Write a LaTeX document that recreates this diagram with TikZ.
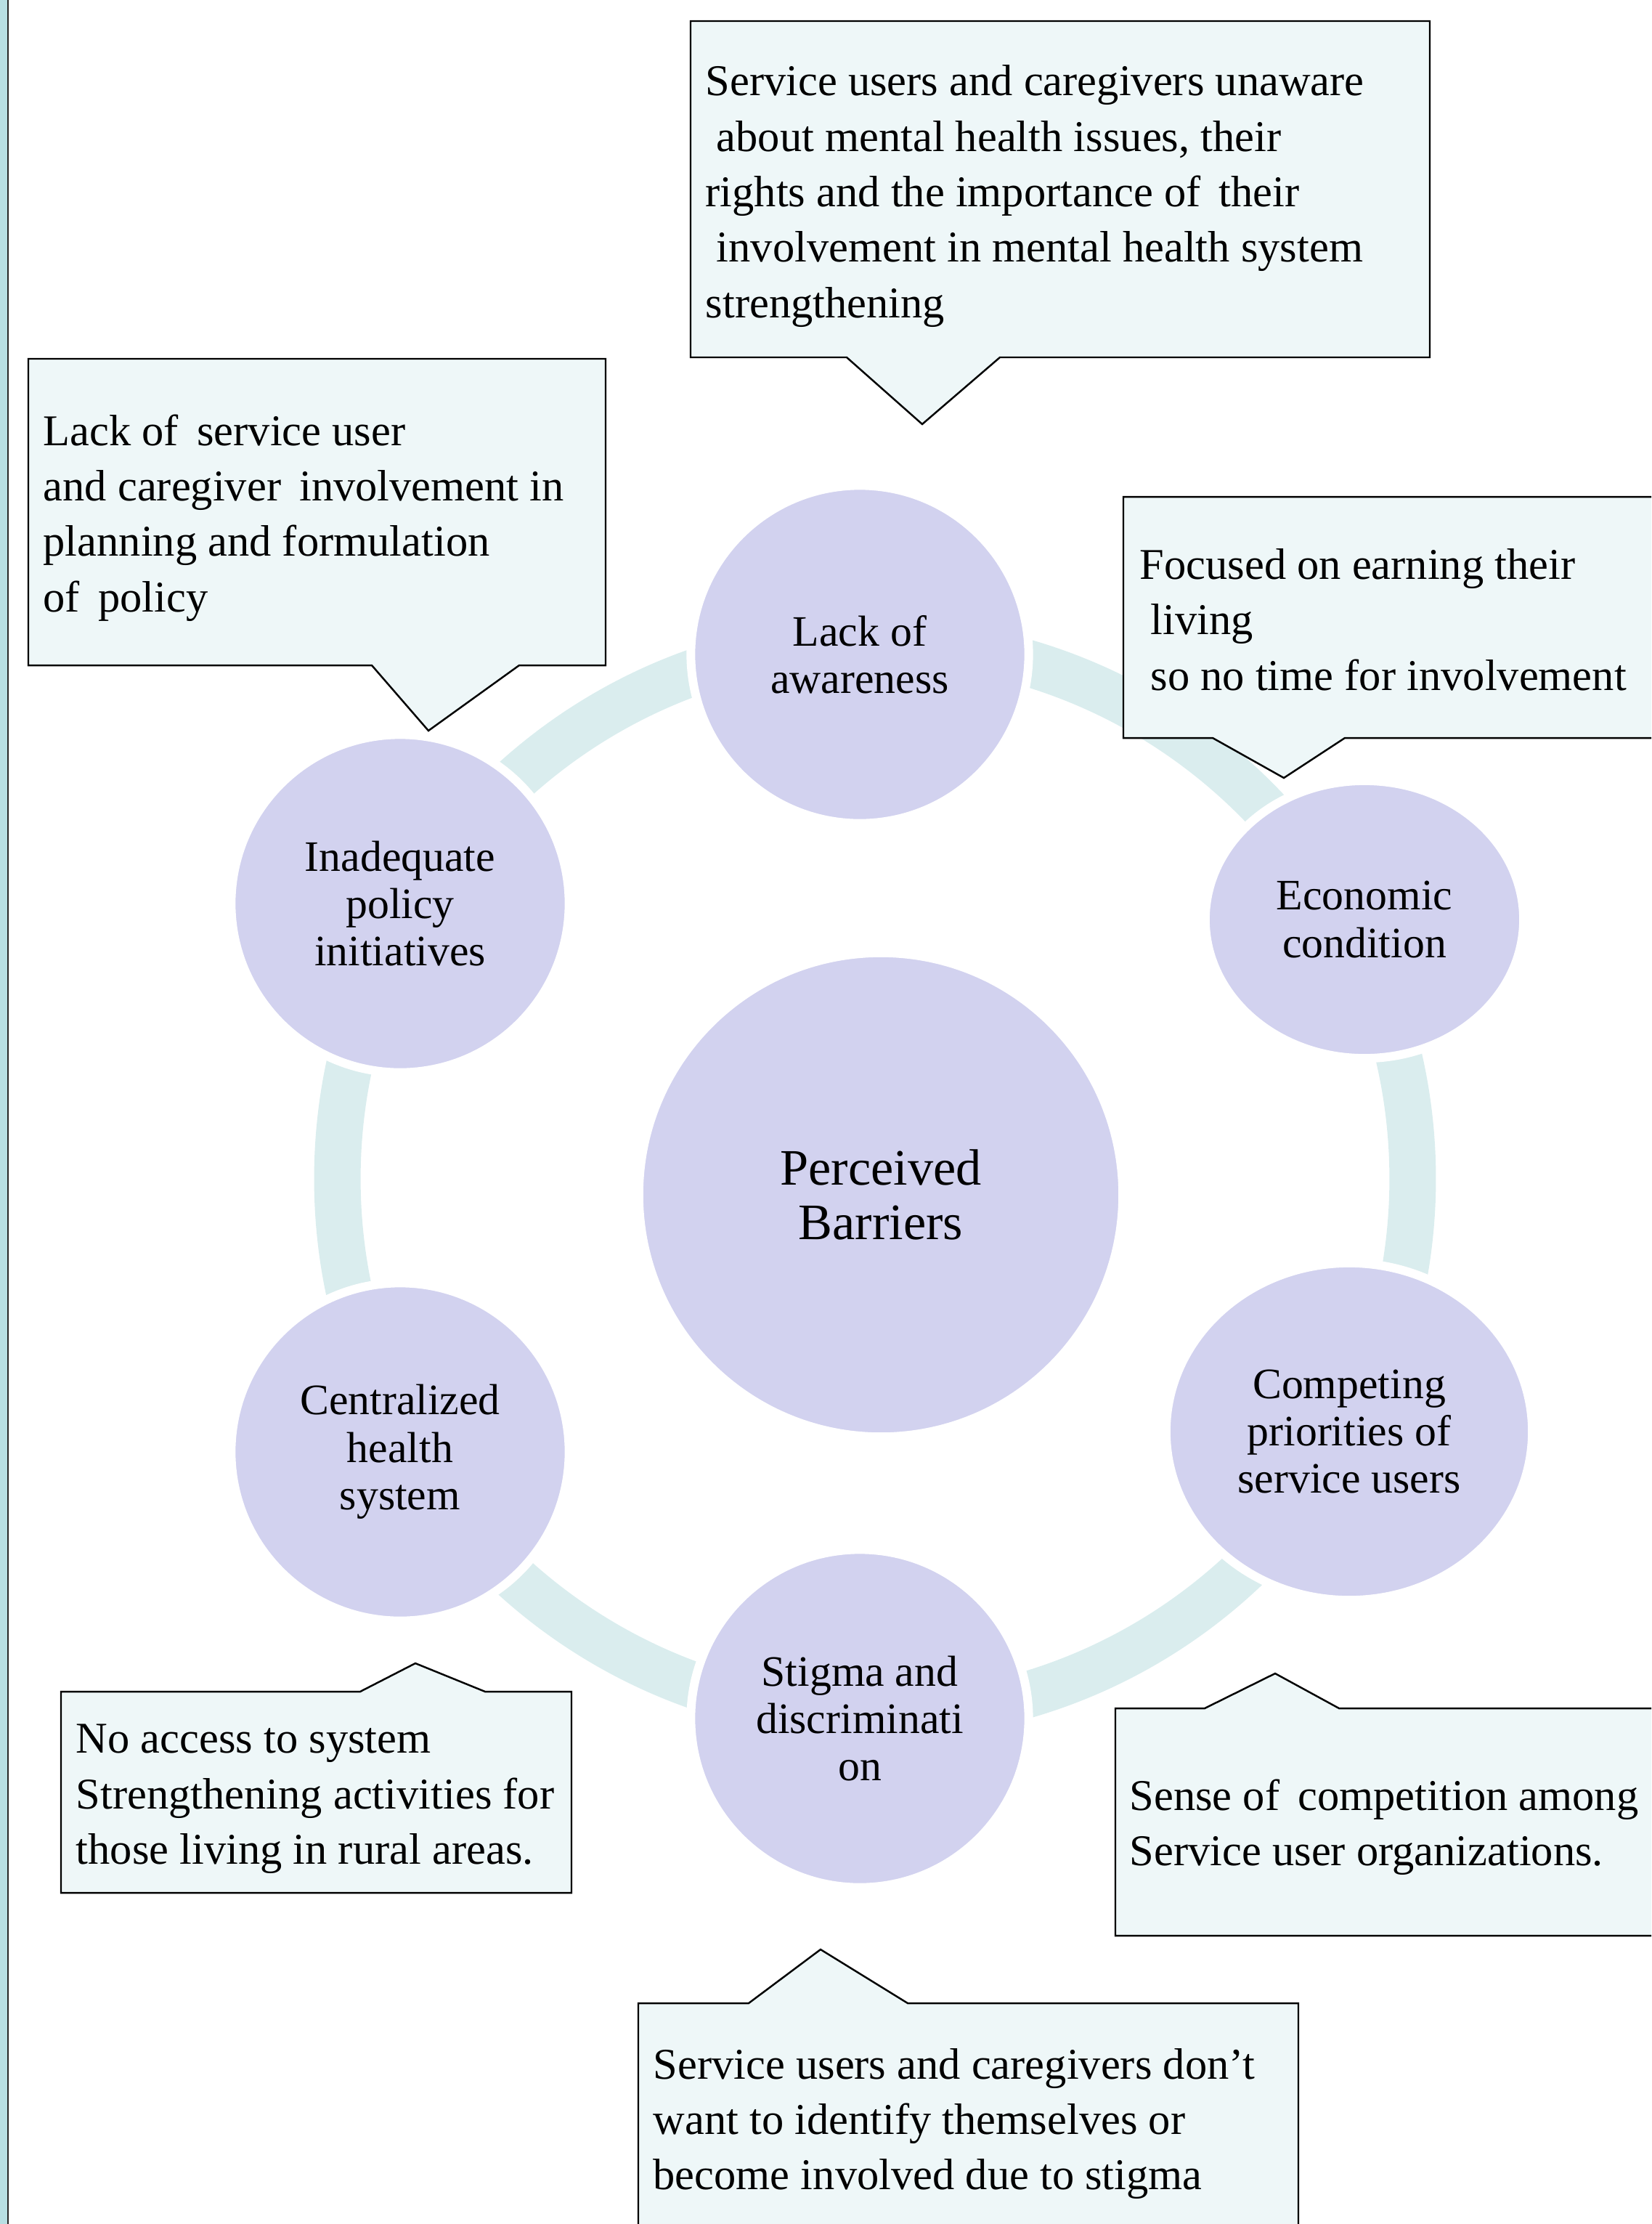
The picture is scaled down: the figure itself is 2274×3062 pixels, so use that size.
\documentclass[tikz,border=0pt]{standalone}
\usepackage{fontspec}
\setmainfont{Liberation Serif}
\usetikzlibrary{shapes.geometric}
\definecolor{bubblefill}{HTML}{D2D2EF}
\definecolor{ringfill}{HTML}{DAEDEE}
\definecolor{notefill}{HTML}{EEF7F8}
\definecolor{stripe}{HTML}{B8DFE3}
\begin{document}
\begin{tikzpicture}[x=0.01cm,y=-0.01cm,
  bubble/.style={fill=bubblefill, draw=white, line width=3.4pt, inner sep=0pt,
    align=center, font=\fontsize{17}{18.6}\selectfont},
  roundbubble/.style={bubble, circle, minimum size=4.65cm},
  ovalbubble/.style={bubble, ellipse},
  ring/.style={draw=ringfill, line width=0.64cm},
  callout/.style={fill=notefill, draw=black, line width=0.7pt, line join=miter},
  note/.style={inner sep=0pt, align=left, anchor=west,
    font=\fontsize{17.2}{21.7}\selectfont}]
\useasboundingbox (0,0) rectangle (2274,3062);
\begin{scope}
\clip (0,0) rectangle (2274,3062);

% left margin stripe
\fill[stripe] (0,0) rectangle (10,3062);
\draw[black!85, line width=0.6pt] (11,0) -- (11,3062);

% cycle ring behind the bubbles
\coordinate (ringc) at (1205,1623);
\draw[ring] (ringc) circle (7.40cm);

% callout boxes
\path[callout] (951,29) -- (1969,29) -- (1969,492) -- (1377,492) -- (1270,584)
  -- (1166,492) -- (951,492) -- cycle;
\path[callout] (39,494) -- (834,494) -- (834,916) -- (715,916) -- (590,1006)
  -- (512,916) -- (39,916) -- cycle;
\path[callout] (1547,684) -- (2300,684) -- (2300,1016) -- (1852,1016) -- (1768,1071)
  -- (1670,1016) -- (1547,1016) -- cycle;
\path[callout] (84,2329) -- (496,2329) -- (572,2290) -- (668,2329) -- (787,2329)
  -- (787,2606) -- (84,2606) -- cycle;
\path[callout] (1536,2352) -- (1659,2352) -- (1756,2304) -- (1844,2352) -- (2300,2352)
  -- (2300,2665) -- (1536,2665) -- cycle;
\path[callout] (879,2758) -- (1031,2758) -- (1130,2684) -- (1250,2758) -- (1788,2758)
  -- (1788,3100) -- (879,3100) -- cycle;

% callout texts
\node[note] (noteaware) at (971,270) {Service users and caregivers unaware\\
  \hspace*{0.15cm}about mental health issues, their\\
  rights and the importance of\, their\\
  \hspace*{0.15cm}involvement in mental health system\\
  strengthening};
\node[note] (notepolicy) at (59,713) {Lack of\, service user\\
  and caregiver\, involvement in\\
  planning and formulation\\
  of\, policy};
\node[note] (noteecon) at (1569,853) {Focused on earning their\\
  \hspace*{0.15cm}living\\
  \hspace*{0.15cm}so no time for involvement};
\node[note] (notecentral) at (104,2477) {No access to system\\
  Strengthening activities for\\
  those living in rural areas.};
\node[note] (notecompete) at (1555,2516) {Sense of\, competition among\\
  Service user organizations.};
\node[note] (notestigma) at (899,2924) {Service users and caregivers don’t\\
  want to identify themselves or\\
  become involved due to stigma};

% bubbles
\node[roundbubble, minimum size=6.66cm, font=\fontsize{20}{21.1}\selectfont]
  (core) at (1213,1645) {Perceived\\Barriers};
\node[roundbubble] (aware) at (1184,901) {Lack of\\awareness};
\node[ovalbubble, minimum width=4.38cm, minimum height=3.82cm]
  (econ) at (1879,1266) {Economic\\condition};
\node[ovalbubble, minimum width=5.04cm, minimum height=4.64cm]
  (compete) at (1858,1971) {Competing\\priorities of\\service users};
\node[roundbubble] (stigma) at (1184,2366) {Stigma and\\discriminati\\on};
\node[roundbubble] (central) at (551,1999) {Centralized\\health\\system};
\node[roundbubble] (policy) at (551,1244) {Inadequate\\policy\\initiatives};
\end{scope}
\end{tikzpicture}
\end{document}
